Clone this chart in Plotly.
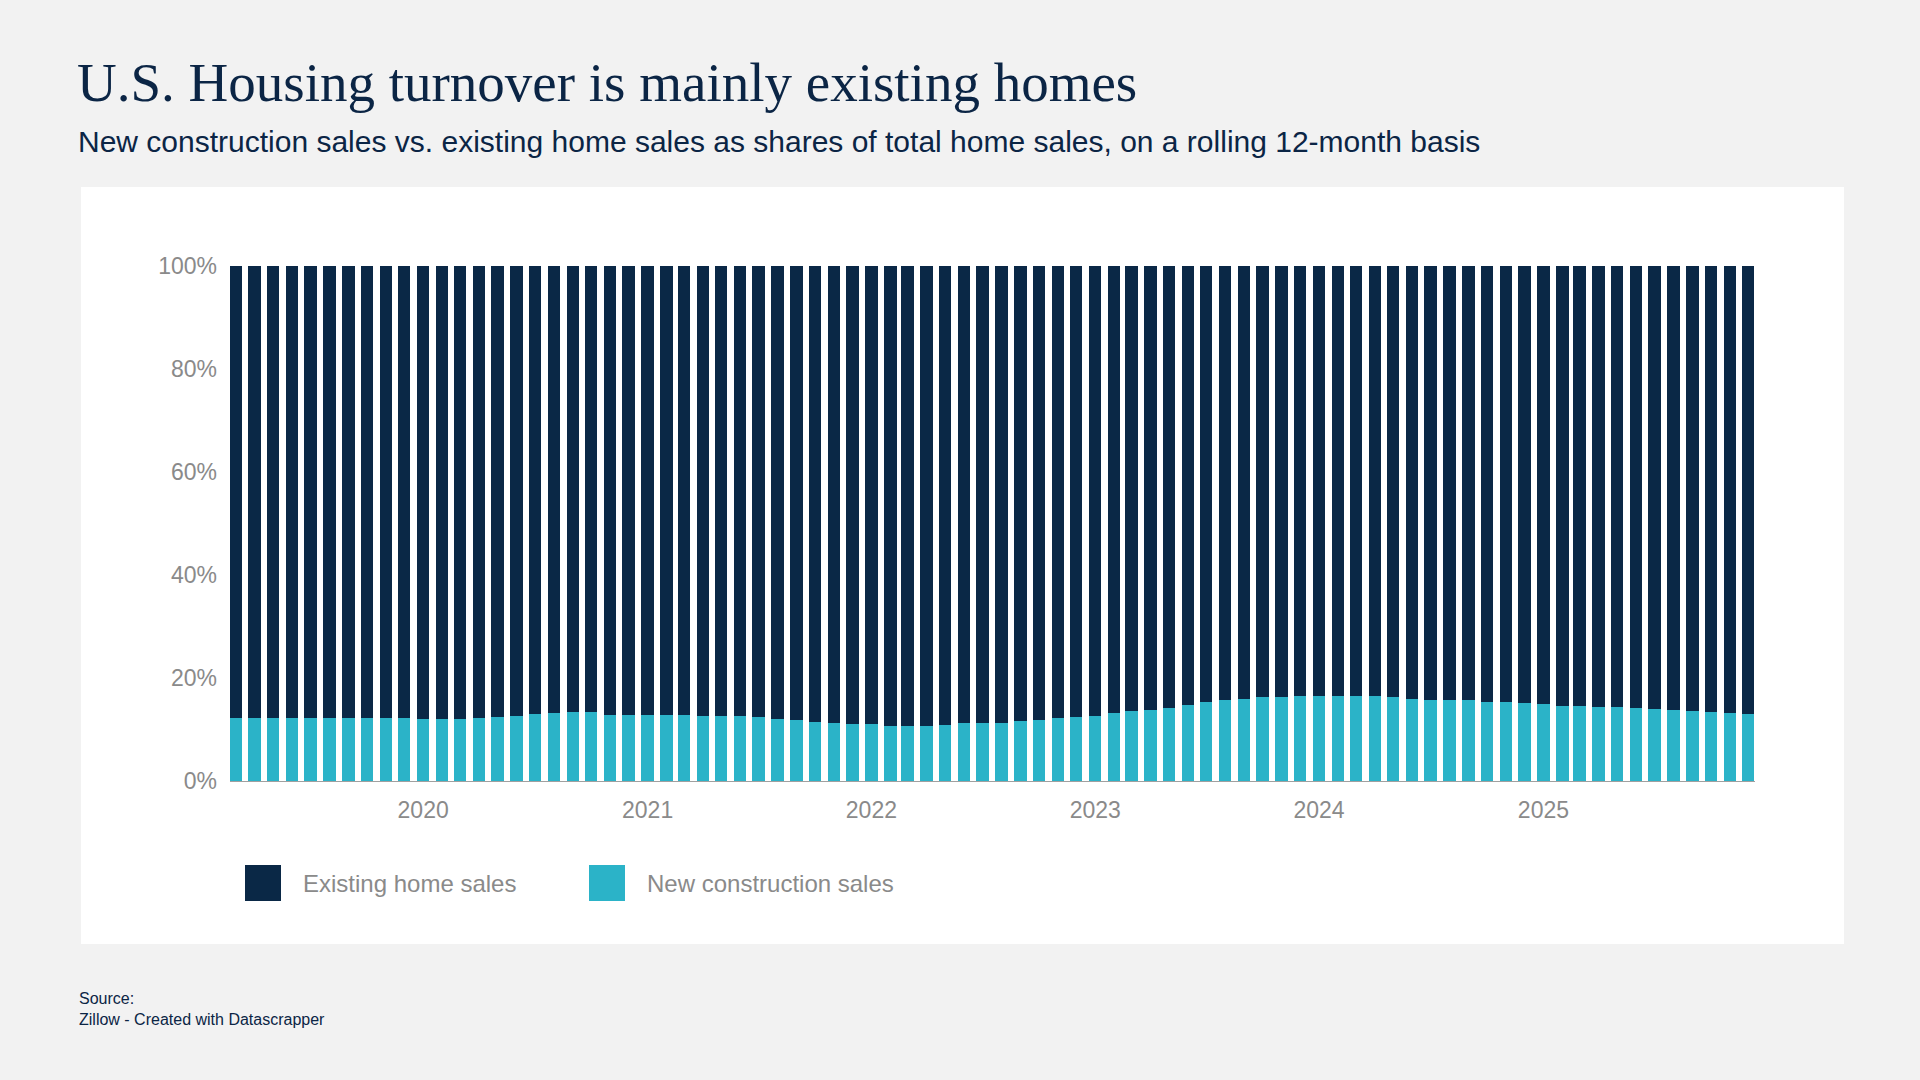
import pandas as pd
import plotly.graph_objects as go

# monthly, rolling 12-month shares of total home sales (%)
months = pd.date_range("2019-03-01", periods=82, freq="MS")

new_construction = [
    12.2, 12.2, 12.2, 12.2, 12.2, 12.2, 12.2, 12.2, 12.2, 12.2, 12.1, 12.1,
    12.1, 12.2, 12.5, 12.6, 13.1, 13.2, 13.4, 13.4, 12.9, 12.9, 12.9, 12.9,
    12.9, 12.7, 12.7, 12.7, 12.4, 12.0, 11.8, 11.5, 11.2, 11.0, 11.0, 10.7,
    10.7, 10.7, 10.9, 11.2, 11.3, 11.3, 11.6, 11.8, 12.2, 12.5, 12.7, 13.3,
    13.6, 13.8, 14.2, 14.7, 15.3, 15.7, 16.0, 16.3, 16.3, 16.6, 16.6, 16.6,
    16.6, 16.5, 16.4, 15.9, 15.8, 15.8, 15.7, 15.4, 15.4, 15.1, 14.9, 14.6,
    14.6, 14.4, 14.3, 14.1, 14.0, 13.8, 13.6, 13.4, 13.3, 13.1,
]
existing = [
    87.8, 87.8, 87.8, 87.8, 87.8, 87.8, 87.8, 87.8, 87.8, 87.8, 87.9, 87.9,
    87.9, 87.8, 87.5, 87.4, 86.9, 86.8, 86.6, 86.6, 87.1, 87.1, 87.1, 87.1,
    87.1, 87.3, 87.3, 87.3, 87.6, 88.0, 88.2, 88.5, 88.8, 89.0, 89.0, 89.3,
    89.3, 89.3, 89.1, 88.8, 88.7, 88.7, 88.4, 88.2, 87.8, 87.5, 87.3, 86.7,
    86.4, 86.2, 85.8, 85.3, 84.7, 84.3, 84.0, 83.7, 83.7, 83.4, 83.4, 83.4,
    83.4, 83.5, 83.6, 84.1, 84.2, 84.2, 84.3, 84.6, 84.6, 84.9, 85.1, 85.4,
    85.4, 85.6, 85.7, 85.9, 86.0, 86.2, 86.4, 86.6, 86.7, 86.9,
]
y_ticks = [0, 20, 40, 60, 80, 100]
y_labels = ["0%", "20%", "40%", "60%", "80%", "100%"]

NAVY = "#0a2846"
TEAL = "#2bb3c8"
GREY = "#8a8a8a"
INK = "#0b2545"
SANS = "Liberation Sans, Arial, sans-serif"

W, H = 1920, 1080
L, R, T, B = 230, 165, 266, 299
PW, PH = W - L - R, H - T - B


# pixel position on the page -> paper coordinates
def px(x):
    return (x - L) / PW


def py(y):
    return (H - B - y) / PH


def note(text, x, y, size, color=INK, family=SANS, **kw):
    return dict(text=text, x=px(x), y=py(y), xref="paper", yref="paper",
                xanchor="left", yanchor="middle", showarrow=False,
                font=dict(family=family, size=size, color=color), **kw)


fig = go.Figure()
fig.add_trace(go.Bar(x=months, y=new_construction, name="New construction sales",
                     marker=dict(color=TEAL, line=dict(width=0)), showlegend=False))
fig.add_trace(go.Bar(x=months, y=existing, name="Existing home sales",
                     marker=dict(color=NAVY, line=dict(width=0)), showlegend=False))

shapes = [
    # white card
    dict(type="rect", xref="paper", yref="paper", x0=px(81), x1=px(1844),
         y0=py(944), y1=py(187), fillcolor="white", line_width=0, layer="below"),
    # legend swatches
    dict(type="rect", xref="paper", yref="paper", x0=px(245), x1=px(281),
         y0=py(901), y1=py(865), fillcolor=NAVY, line_width=0),
    dict(type="rect", xref="paper", yref="paper", x0=px(589), x1=px(625),
         y0=py(901), y1=py(865), fillcolor=TEAL, line_width=0),
]

annotations = [
    note("U.S. Housing turnover is mainly existing homes", 75, 83, 55,
         family="Liberation Serif, serif"),
    note("New construction sales vs. existing home sales as shares of total home sales, "
         "on a rolling 12-month basis", 76, 141, 30),
    note("Existing home sales", 301, 883, 24, color=GREY),
    note("New construction sales", 645, 883, 24, color=GREY),
    note("Source:<br>Zillow - Created with Datascrapper", 77, 1009, 16, align="left"),
]

fig.update_layout(
    width=W, height=H,
    margin=dict(l=L, r=R, t=T, b=B),
    paper_bgcolor="#f2f2f2",
    plot_bgcolor="white",
    barmode="stack",
    bargap=0.28,
    shapes=shapes,
    annotations=annotations,
    font=dict(family=SANS, color=GREY),
)
fig.update_xaxes(
    type="date", range=["2019-02-20", "2025-12-12"],
    dtick="M12", tick0="2020-01-01", tickformat="%Y",
    showgrid=False, zeroline=False, showline=True, linecolor="#a0a0a0", linewidth=1,
    ticks="", ticklabelstandoff=8, tickfont=dict(size=23, color=GREY),
)
fig.update_yaxes(
    range=[0, 100], tickmode="array", tickvals=y_ticks, ticktext=y_labels,
    showgrid=False, zeroline=False, showline=False,
    ticks="", ticklabelstandoff=12, tickfont=dict(size=23, color=GREY),
)

fig.write_html("out.html", config={"displayModeBar": False},
               post_script="document.body.style.margin='0';")
